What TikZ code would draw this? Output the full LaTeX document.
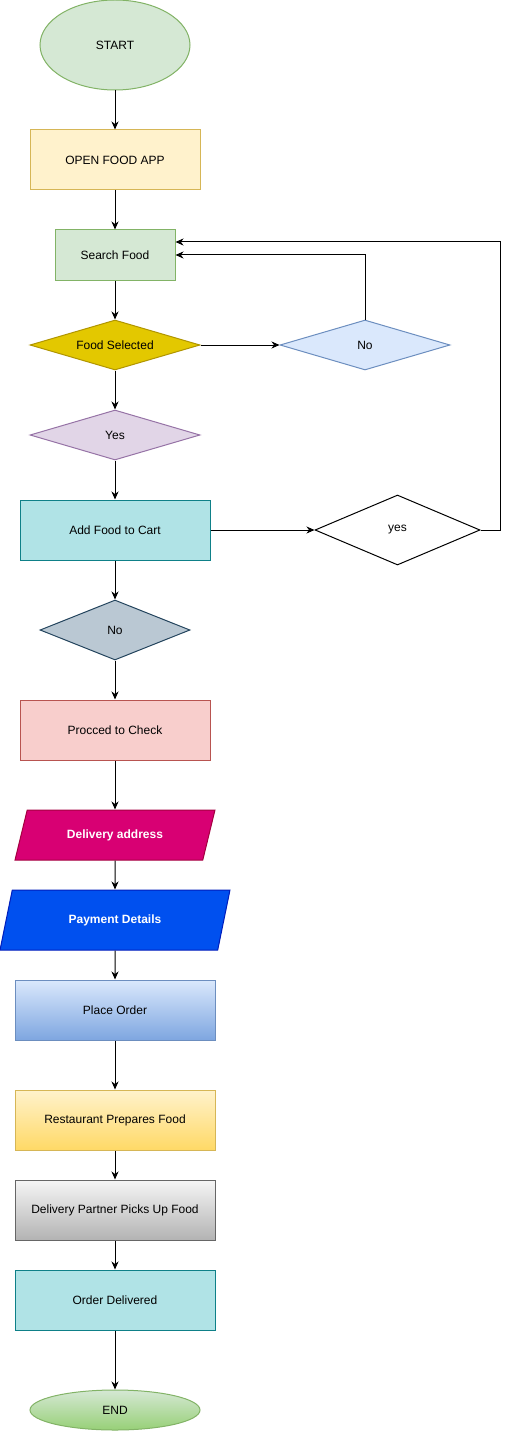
\documentclass[tikz,border=0pt]{standalone}
\usepackage{fontspec}
\setmainfont{Liberation Sans}
\usetikzlibrary{shapes.geometric,arrows.meta}

\definecolor{gruenfill}{HTML}{D5E8D4}
\definecolor{gruendraw}{HTML}{82B366}
\definecolor{gruenend}{HTML}{97D077}
\definecolor{gelbfill}{HTML}{FFF2CC}
\definecolor{gelbdraw}{HTML}{D6B656}
\definecolor{gelbend}{HTML}{FFD966}
\definecolor{senffill}{HTML}{E3C800}
\definecolor{senfdraw}{HTML}{B09500}
\definecolor{blaufill}{HTML}{DAE8FC}
\definecolor{blaudraw}{HTML}{6C8EBF}
\definecolor{blauend}{HTML}{7EA6E0}
\definecolor{lilafill}{HTML}{E1D5E7}
\definecolor{liladraw}{HTML}{9673A6}
\definecolor{tuerkisfill}{HTML}{B0E3E6}
\definecolor{tuerkisdraw}{HTML}{0E8088}
\definecolor{graublaufill}{HTML}{BAC8D3}
\definecolor{graublaudraw}{HTML}{23445D}
\definecolor{rotfill}{HTML}{F8CECC}
\definecolor{rotdraw}{HTML}{B85450}
\definecolor{pinkfill}{HTML}{D80073}
\definecolor{pinkdraw}{HTML}{A50040}
\definecolor{kobaltfill}{HTML}{0050EF}
\definecolor{kobaltdraw}{HTML}{001DBC}
\definecolor{graufill}{HTML}{F5F5F5}
\definecolor{grauend}{HTML}{B3B3B3}
\definecolor{graudraw}{HTML}{666666}

\begin{document}
\begin{tikzpicture}[x=1pt, y=-1pt, font=\fontsize{12}{14}\selectfont,
    kasten/.style={rectangle, line width=1pt, inner sep=2pt},
    raute/.style={diamond, line width=1pt, inner sep=0pt, aspect=3.4},
    datenbox/.style={trapezium, trapezium stretches=true, line width=1pt, text=white, font=\fontsize{12}{14}\selectfont\bfseries},
    pfeil/.style={-{Stealth[length=8pt, width=7pt, inset=2.5pt]}, line width=1pt}]
    \useasboundingbox (0,0) rectangle (509,1431);

    % Start
    \node[ellipse, line width=1pt, draw=gruendraw, fill=gruenfill, minimum width=150pt, minimum height=90pt] (start) at (115,45) {START};

    % App oeffnen und Suche
    \node[kasten, draw=gelbdraw, fill=gelbfill, minimum width=170pt, minimum height=60pt] (app) at (115,160) {OPEN FOOD APP};
    \node[kasten, draw=gruendraw, fill=gruenfill, minimum width=120pt, minimum height=50pt] (suche) at (115,255) {Search Food};

    % Entscheidungen
    \node[raute, draw=senfdraw, fill=senffill, minimum width=170pt, minimum height=50pt] (gewaehlt) at (115,345) {Food Selected};
    \node[raute, draw=blaudraw, fill=blaufill, minimum width=170pt, minimum height=50pt] (nein) at (365,345) {No};
    \node[raute, draw=liladraw, fill=lilafill, minimum width=170pt, minimum height=50pt] (ja) at (115,435) {Yes};

    % Warenkorb
    \node[kasten, draw=tuerkisdraw, fill=tuerkisfill, minimum width=190pt, minimum height=60pt] (korb) at (115,530) {Add Food to Cart};
    \node[raute, draw=black, fill=white, aspect=2.36, minimum width=165pt, minimum height=70pt] (jaweiter) at (397.5,530) {yes};
    \node[raute, draw=graublaudraw, fill=graublaufill, aspect=2.5, minimum width=150pt, minimum height=60pt] (neinweiter) at (115,630) {No};

    % Kasse
    \node[kasten, draw=rotdraw, fill=rotfill, minimum width=190pt, minimum height=60pt] (kasse) at (115,730) {Procced to Check};
    \node[datenbox, draw=pinkdraw, fill=pinkfill, trapezium left angle=68.2, trapezium right angle=111.8, minimum width=200pt, minimum height=50pt] (adresse) at (115,835) {Delivery address};
    \node[datenbox, draw=kobaltdraw, fill=kobaltfill, trapezium left angle=71.6, trapezium right angle=108.4, minimum width=230pt, minimum height=60pt] (zahlung) at (115,920) {Payment Details};

    % Bestellung und Lieferung
    \node[kasten, draw=blaudraw, top color=blaufill, bottom color=blauend, minimum width=200pt, minimum height=60pt] (bestellung) at (115,1010) {Place Order};
    \node[kasten, draw=gelbdraw, top color=gelbfill, bottom color=gelbend, minimum width=200pt, minimum height=60pt] (zubereitung) at (115,1120) {Restaurant Prepares Food};
    \node[kasten, draw=graudraw, top color=graufill, bottom color=grauend, minimum width=200pt, minimum height=60pt] (abholung) at (115,1210) {Delivery Partner Picks Up Food};
    \node[kasten, draw=tuerkisdraw, fill=tuerkisfill, minimum width=200pt, minimum height=60pt] (geliefert) at (115,1300) {Order Delivered};

    % Ende
    \node[ellipse, line width=1pt, draw=gruendraw, top color=gruenfill, bottom color=gruenend, minimum width=170pt, minimum height=40pt] (ende) at (115,1410) {END};

    % Pfeile
    \draw[pfeil] (start) -- (app);
    \draw[pfeil] (app) -- (suche);
    \draw[pfeil] (suche) -- (gewaehlt);
    \draw[pfeil] (gewaehlt) -- (nein);
    \draw[pfeil] (nein.north) |- (suche.east);
    \draw[pfeil] (gewaehlt) -- (ja);
    \draw[pfeil] (ja) -- (korb);
    \draw[pfeil] (korb) -- (jaweiter);
    \coordinate (schleife) at (500,242);
    \draw[pfeil] (jaweiter.east) -| (schleife) -- (schleife -| suche.east);
    \draw[pfeil] (korb) -- (neinweiter);
    \draw[pfeil] (neinweiter) -- (kasse);
    \draw[pfeil] (kasse) -- (adresse);
    \draw[pfeil] (adresse) -- (zahlung);
    \draw[pfeil] (zahlung) -- (bestellung);
    \draw[pfeil] (bestellung) -- (zubereitung);
    \draw[pfeil] (zubereitung) -- (abholung);
    \draw[pfeil] (abholung) -- (geliefert);
    \draw[pfeil] (geliefert) -- (ende);
\end{tikzpicture}
\end{document}
